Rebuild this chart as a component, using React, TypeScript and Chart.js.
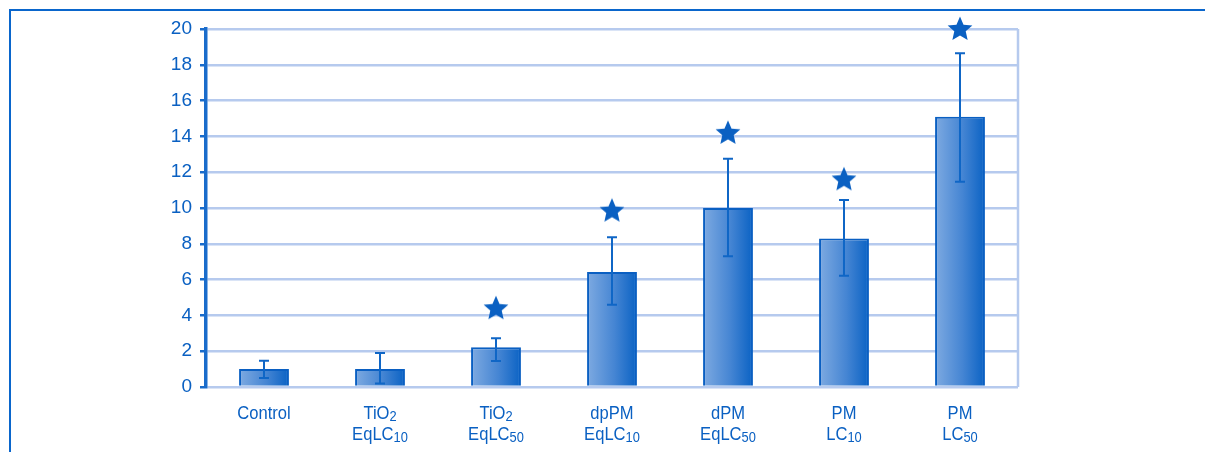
import React, { useEffect, useRef } from "react";
import { Chart, registerables } from "chart.js";

Chart.register(...registerables);

// ---- data ----
const labelLine1 = ["Control", "TiO2", "TiO2", "dpPM", "dPM", "PM", "PM"];
const labelLine2 = ["", "EqLC10", "EqLC50", "EqLC10", "EqLC50", "LC10", "LC50"];
const barValues = [1.0, 1.0, 2.22, 6.42, 10.0, 8.3, 15.1];
const errLow = [0.5, 0.2, 1.45, 4.6, 7.3, 6.22, 11.47];
const errHigh = [1.47, 1.9, 2.72, 8.36, 12.75, 10.45, 18.64];
const starValues: (number | null)[] = [null, null, 4.4, 9.85, 14.2, 11.6, 20.0];
const yTicks = [0, 2, 4, 6, 8, 10, 12, 14, 16, 18, 20];

const BLUE = "#0a60c2";
const AXIS = "#1a6ccb";
const GRID = "#b6caee";
const FONT = '"Liberation Sans", Arial, Helvetica, sans-serif';

function makeStar(): HTMLCanvasElement {
  const c = document.createElement("canvas");
  c.width = 28;
  c.height = 28;
  const g = c.getContext("2d")!;
  const cx = 14, cy = 14.5, R = 13, r = 6;
  g.beginPath();
  for (let i = 0; i < 10; i++) {
    const rad = i % 2 === 0 ? R : r;
    const a = -Math.PI / 2 + (i * Math.PI) / 5;
    const x = cx + rad * Math.cos(a);
    const y = cy + rad * Math.sin(a);
    if (i === 0) g.moveTo(x, y);
    else g.lineTo(x, y);
  }
  g.closePath();
  g.fillStyle = BLUE;
  g.fill();
  return c;
}

function drawLabelLine(ctx: CanvasRenderingContext2D, text: string, cx: number, baseline: number) {
  if (!text) return;
  const m = text.match(/^(.*?)(\d+)$/);
  const main = m ? m[1] : text;
  const sub = m ? m[2] : "";
  const mainFont = `18px ${FONT}`;
  const subFont = `14px ${FONT}`;
  ctx.font = mainFont;
  const wMain = ctx.measureText(main).width;
  ctx.font = subFont;
  const wSub = sub ? ctx.measureText(sub).width : 0;
  const sx = 0.92;
  const total = (wMain + wSub) * sx;
  ctx.save();
  ctx.translate(cx - total / 2, baseline);
  ctx.scale(sx, 1);
  ctx.textAlign = "left";
  ctx.textBaseline = "alphabetic";
  ctx.fillStyle = BLUE;
  ctx.font = mainFont;
  ctx.fillText(main, 0, 0);
  if (sub) {
    ctx.font = subFont;
    ctx.fillText(sub, wMain, 1.5);
  }
  ctx.restore();
}

const overlayPlugin = {
  id: "overlay",
  afterDatasetsDraw(chart: any) {
    const ctx: CanvasRenderingContext2D = chart.ctx;
    const xs = chart.scales.x;
    const ys = chart.scales.y;
    const area = chart.chartArea;
    ctx.save();
    // right border of plot
    ctx.strokeStyle = GRID;
    ctx.lineWidth = 2.5;
    ctx.beginPath();
    ctx.moveTo(area.right, area.top);
    ctx.lineTo(area.right, area.bottom);
    ctx.stroke();
    // error bars
    ctx.strokeStyle = "#0f66c6";
    ctx.lineWidth = 2;
    for (let i = 0; i < barValues.length; i++) {
      const x = xs.getPixelForValue(i);
      const yl = ys.getPixelForValue(errLow[i]);
      const yh = ys.getPixelForValue(errHigh[i]);
      ctx.beginPath();
      ctx.moveTo(x, yl);
      ctx.lineTo(x, yh);
      ctx.moveTo(x - 5, yh);
      ctx.lineTo(x + 5, yh);
      ctx.moveTo(x - 5, yl);
      ctx.lineTo(x + 5, yl);
      ctx.stroke();
    }
    ctx.restore();
  },
  afterDraw(chart: any) {
    const ctx: CanvasRenderingContext2D = chart.ctx;
    const xs = chart.scales.x;
    ctx.save();
    for (let i = 0; i < labelLine1.length; i++) {
      const x = xs.getPixelForValue(i);
      drawLabelLine(ctx, labelLine1[i], x, 419);
      drawLabelLine(ctx, labelLine2[i], x, 440);
    }
    ctx.restore();
  },
};

export default function App() {
  const ref = useRef<HTMLCanvasElement | null>(null);

  useEffect(() => {
    if (!ref.current) return;
    const star = makeStar();
    const chart = new Chart(ref.current, {
      type: "bar",
      data: {
        labels: labelLine1.map((l, i) => [l, labelLine2[i]]),
        datasets: [
          {
            type: "line",
            data: starValues,
            showLine: false,
            pointStyle: star as any,
            pointRadius: 13,
            clip: false as any,
            order: 0,
          } as any,
          {
            type: "bar",
            data: barValues,
            barPercentage: 0.43,
            categoryPercentage: 1,
            borderColor: "#0a5fc2",
            borderWidth: 2,
            order: 1,
            backgroundColor: (c: any) => {
              const chart = c.chart;
              const area = chart.chartArea;
              if (!area || !chart.scales.x) return "#4a8ad6";
              const x = chart.scales.x.getPixelForValue(c.dataIndex);
              const g = chart.ctx.createLinearGradient(x - 25, 0, x + 25, 0);
              g.addColorStop(0, "#7eaae1");
              g.addColorStop(0.55, "#4585d3");
              g.addColorStop(1, "#0a62c4");
              return g;
            },
          } as any,
        ],
      },
      options: {
        responsive: false,
        animation: false,
        devicePixelRatio: 1,
        layout: { padding: { top: 29, right: 187, bottom: 0, left: 0 } },
        plugins: { legend: { display: false }, tooltip: { enabled: false } },
        scales: {
          x: {
            offset: true,
            grid: { display: false },
            border: { display: false },
            ticks: { display: false },
            afterFit: (s: any) => {
              s.height = 65;
            },
          },
          y: {
            min: 0,
            max: 20,
            afterBuildTicks: (s: any) => {
              s.ticks = yTicks.map((v) => ({ value: v }));
            },
            ticks: {
              color: BLUE,
              padding: 8,
              font: { family: FONT, size: 19 },
            },
            grid: {
              color: GRID,
              lineWidth: 2.5,
              drawTicks: true,
              tickLength: 6,
              tickColor: AXIS,
              tickWidth: 2.5,
            },
            border: { display: true, color: AXIS, width: 3.5 },
            afterFit: (s: any) => {
              s.width = 206;
            },
          },
        },
      },
      plugins: [overlayPlugin],
    });
    return () => chart.destroy();
  }, []);

  return (
    <div>
      <div
        style={{
          position: "fixed",
          left: 9,
          top: 9,
          right: -10,
          bottom: -10,
          borderTop: "2px solid #0a66cc",
          borderLeft: "2px solid #0a66cc",
        }}
      />
      <canvas
        ref={ref}
        width={1205}
        height={452}
        style={{ position: "fixed", left: 0, top: 0, width: 1205, height: 452 }}
      />
    </div>
  );
}
